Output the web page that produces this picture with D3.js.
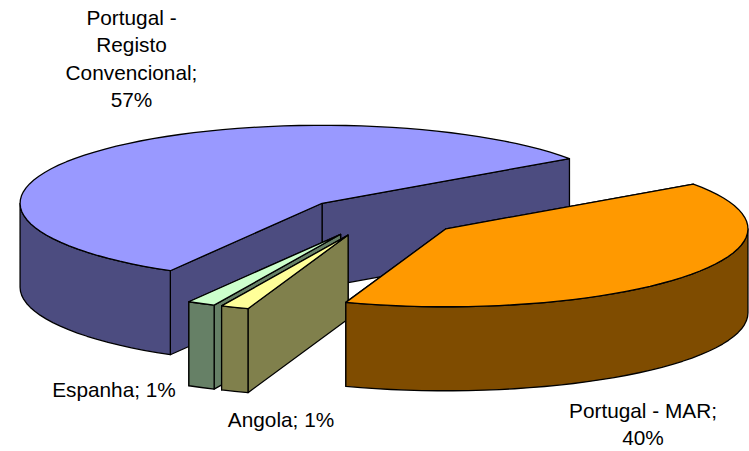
<!DOCTYPE html>
<html lang="en">
<head>
    <meta charset="UTF-8">
    <title>3D Exploded Pie</title>
    <style>
        html, body { margin: 0; padding: 0; background: #fff; }
        svg { display: block; }
        text { font-family: "Liberation Sans", Arial, sans-serif; font-size: 20.8px; fill: #000; }
    </style>
</head>

<body>
    <script src="https://d3js.org/d3.v7.min.js"></script>
    <script>
        // chart values, clockwise from the first slice
        const categories = ['Portugal - MAR', 'Angola', 'Espanha', 'Portugal - Registo Convencional'];
        const values = [40.1, 1.5, 1.5, 56.9];
        const percentLabels = ['40%', '1%', '1%', '57%'];
        const topColors = ['#ff9900', '#ffff99', '#ccffcc', '#9999ff'];
        const sideColors = ['#7f4c00', '#80804c', '#668066', '#4c4c80'];
        const labelLines = [
            ['Portugal - MAR;', '40%'],
            ['Angola; 1%'],
            ['Espanha; 1%'],
            ['Portugal -', 'Registo', 'Convencional;', '57%']
        ];

        const w = 749;
        const h = 451;
        const cx = 381;
        const cy = 217;
        const rx = 302;
        const ry = 78;
        const depth = 84;
        const startDeg = 55;
        const toRad = Math.PI / 180;

        // how far each slice is pulled out, across and down
        const explodeX = [0.27, 0.29, 0.29, 0.265];
        const explodeY = [0.25, 0.25, 0.25, 0.26];

        // label anchor per slice: x, first baseline
        const labelPos = [
            {x: 643, y: 418},
            {x: 281, y: 427},
            {x: 114, y: 397},
            {x: 131.5, y: 25}
        ];
        const lineGap = 27.3;

        const xScale = d3.scaleLinear().domain([-1, 1]).range([cx - rx, cx + rx]);
        const yScale = d3.scaleLinear().domain([-1, 1]).range([cy + ry, cy - ry]);

        const pie = d3.pie().sort(null).value(d => d)
            .startAngle(startDeg * toRad)
            .endAngle(startDeg * toRad + 2 * Math.PI);

        const line = d3.line().x(d => d[0]).y(d => d[1]);

        const svg = d3.select('body').append('svg')
            .attr('width', w)
            .attr('height', h);

        // unit position at angle a (clockwise from top) and radius r
        const at = (a, r, off) => [
            xScale(Math.sin(a) * r + off[0]),
            yScale(Math.cos(a) * r + off[1])
        ];

        const sampleAngles = (a0, a1) => {
            const n = Math.max(1, Math.ceil((a1 - a0) / (3 * toRad)));
            return d3.range(n + 1).map(i => a0 + (a1 - a0) * i / n);
        };

        const arcs = pie(values).map((d, i) => {
            const mid = (d.startAngle + d.endAngle) / 2;
            return {...d, i, off: [Math.sin(mid) * explodeX[i], Math.cos(mid) * explodeY[i]]};
        });

        // back to front
        const drawOrder = [3, 2, 1, 0];

        const drawSlice = d => {
            const g = svg.append('g').attr('class', 'slice').attr('data-name', categories[d.i]);
            const apex = at(0, 0, d.off);
            const down = p => [p[0], p[1] + depth];
            const face = (pts, fill) => g.append('path')
                .attr('d', line(pts) + 'Z')
                .attr('fill', fill)
                .attr('stroke', '#000')
                .attr('stroke-width', 1.3)
                .attr('stroke-linejoin', 'round');
            const wall = a => {
                const rim = at(a, 1, d.off);
                face([apex, rim, down(rim), down(apex)], sideColors[d.i]);
            };
            // end wall first so the start wall sits over it on the thin slices
            wall(d.endAngle);
            wall(d.startAngle);

            // outer wall, only the part on the front half of the ellipse
            const frontStart = Math.max(d.startAngle, Math.PI / 2);
            const frontEnd = Math.min(d.endAngle, 3 * Math.PI / 2);
            if (frontEnd > frontStart) {
                const rim = sampleAngles(frontStart, frontEnd).map(a => at(a, 1, d.off));
                face(rim.concat(rim.map(down).reverse()), sideColors[d.i]);
            }

            face([apex].concat(sampleAngles(d.startAngle, d.endAngle).map(a => at(a, 1, d.off))), topColors[d.i]);
        };

        drawOrder.forEach(i => drawSlice(arcs[i]));

        svg.append('g').attr('class', 'labels')
            .selectAll('text')
            .data(labelLines)
            .enter()
            .append('text')
            .attr('text-anchor', 'middle')
            .attr('data-percent', (d, i) => percentLabels[i])
            .selectAll('tspan')
            .data((d, i) => d.map((t, j) => ({t, j, pos: labelPos[i]})))
            .enter()
            .append('tspan')
            .attr('x', d => d.pos.x)
            .attr('y', d => d.pos.y + d.j * lineGap)
            .text(d => d.t);
    </script>
</body>
</html>
